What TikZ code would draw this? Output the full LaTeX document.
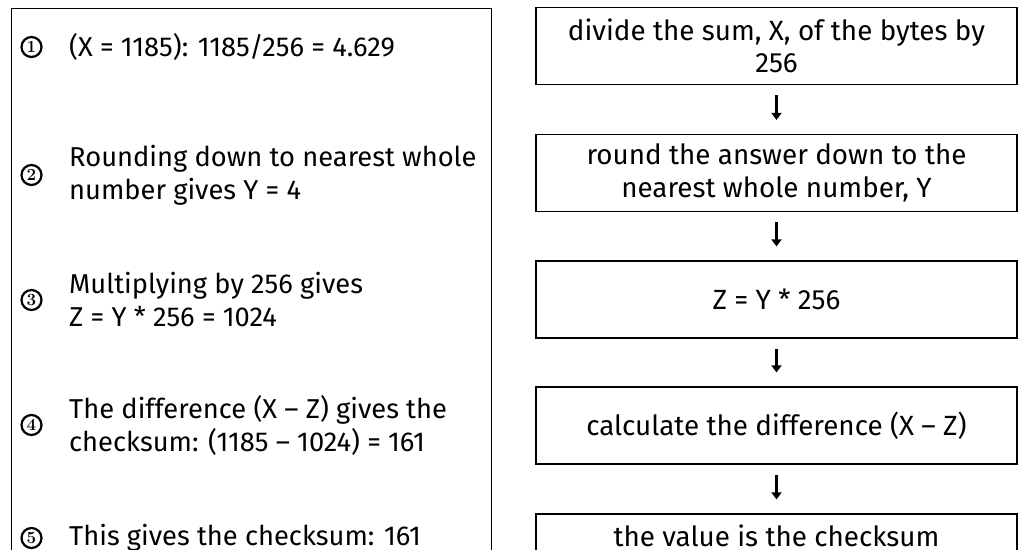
\documentclass[tikz,border=0pt]{standalone}
\usepackage{fontspec}
\newfontfamily\sansf{Fira Sans}
\usetikzlibrary{arrows.meta}
\begin{document}
\begin{tikzpicture}[x=1pt,y=-1pt,
  txt/.style={font=\sansf\fontsize{27.3}{33}\selectfont, inner sep=0pt, align=left, anchor=west},
  stepbox/.style={draw, line width=1.2pt, minimum width=481pt, minimum height=77pt, align=center,
    font=\sansf\fontsize{27.8}{32.5}\selectfont, inner sep=0pt},
  num/.style={circle, draw, line width=2.2pt, inner sep=0pt, minimum size=20pt,
    font=\rmfamily\bfseries\fontsize{17}{17}\selectfont},
  arr/.style={line width=2.4pt, -{Triangle[width=10pt,length=7pt]}, shorten <=10pt, shorten >=14pt}
]
\useasboundingbox (0,0) rectangle (1020,549);
\node[draw, line width=1.2pt, anchor=north west, minimum width=480.3pt, minimum height=600pt, inner sep=0pt] (panel) at (10.7,8) {};

\node[num] (n1) at (31.5,47) {1};
\node[txt] (t1) at (69,47) {(X = 1185): 1185/256 = 4.629};
\node[num] (n2) at (31.5,175) {2};
\node[txt] (t2) at (69,175) {Rounding down to nearest whole\\number gives Y = 4};
\node[num] (n3) at (31.5,300) {3};
\node[txt] (t3) at (69,300) {Multiplying by 256 gives\\Z = Y * 256 = 1024};
\node[num] (n4) at (31.5,425) {4};
\node[txt] (t4) at (69,425) {The difference (X – Z) gives the\\checksum: (1185 – 1024) = 161};
\node[num] (n5) at (31.5,538) {5};
\node[txt] (t5) at (69,538) {This gives the checksum: 161};

\node[stepbox] (b1) at (776.5,46) {divide the sum, X, of the bytes by\\256};
\node[stepbox] (b2) at (776.5,173) {round the answer down to the\\nearest whole number, Y};
\node[stepbox] (b3) at (776.5,299.5) {Z = Y * 256};
\node[stepbox] (b4) at (776.5,425.5) {calculate the difference (X – Z)};
\node[stepbox] (b5) at (776.5,552.5) {\raisebox{-9pt}{the value is the checksum}\\\strut};

\draw[arr] (b1) -- (b2);
\draw[arr] (b2) -- (b3);
\draw[arr] (b3) -- (b4);
\draw[arr] (b4) -- (b5);
\end{tikzpicture}
\end{document}
